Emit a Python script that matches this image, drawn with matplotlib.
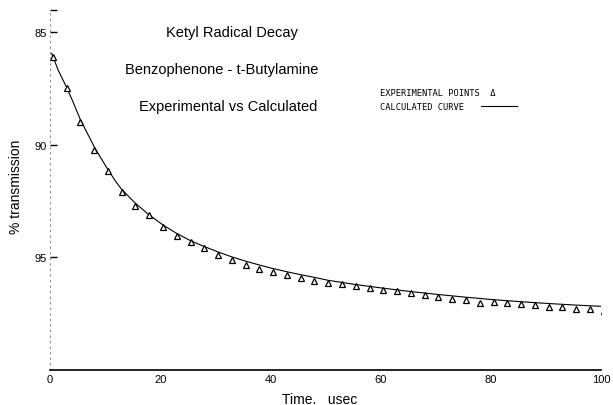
import matplotlib
matplotlib.use("Agg")
import matplotlib.pyplot as plt

plt.rcParams['font.family'] = ['Liberation Sans', 'DejaVu Sans']

# experimental points (time in usec, % transmission)
t_exp = [0.5, 3, 5.5, 8, 10.5, 13, 15.5, 18, 20.5, 23, 25.5, 28, 30.5, 33, 35.5,
         38, 40.5, 43, 45.5, 48, 50.5, 53, 55.5, 58, 60.5, 63, 65.5, 68, 70.5,
         73, 75.5, 78, 80.5, 83, 85.5, 88, 90.5, 93, 95.5, 98, 100.5]
T_exp = [86.11, 87.48, 88.99, 90.24, 91.17, 92.10, 92.72, 93.12, 93.65, 94.05,
         94.32, 94.58, 94.90, 95.12, 95.33, 95.50, 95.65, 95.78, 95.93, 96.04,
         96.13, 96.20, 96.29, 96.36, 96.45, 96.51, 96.60, 96.69, 96.76, 96.85,
         96.91, 97.04, 96.97, 97.01, 97.07, 97.12, 97.19, 97.22, 97.29, 97.31,
         97.37]

# calculated curve
t_calc = [0.3, 1.5, 3, 4, 5.5, 7, 8, 9, 10.5, 12, 13, 15.5, 18, 20.5, 23, 25.5,
          28, 30.5, 33, 35.5, 38, 40.5, 43, 45.5, 48, 50.5, 55.5, 60.5, 65.5,
          70.5, 75.5, 80.5, 85.5, 90.5, 95.5, 100.5]
T_calc = [85.95, 86.7, 87.45, 88.0, 88.88, 89.6, 90.08, 90.5, 91.1, 91.66,
          91.98, 92.6, 93.12, 93.56, 93.94, 94.26, 94.52, 94.76, 94.98, 95.17,
          95.34, 95.5, 95.64, 95.77, 95.89, 96.02, 96.21, 96.37, 96.52, 96.65,
          96.77, 96.88, 96.97, 97.05, 97.12, 97.18]

xticks = [0, 20, 40, 60, 80, 100]
yticks = [84, 85, 90, 95]
ylabels = ['', '85', '90', '95']

fig = plt.figure(figsize=(6.13, 4.06), dpi=100)
ax = fig.add_axes([50/613, 1-371/406, 551/613, 360.5/406])

ax.plot(t_calc, T_calc, color='black', lw=0.8)
ax.plot(t_exp, T_exp, ls='none', marker='^', ms=4.2, mfc='white', mec='black', mew=0.9)

ax.set_xlim(0, 100)
ax.set_ylim(100, 84)
ax.set_xticks(xticks)
ax.set_xticklabels([str(v) for v in xticks], fontsize=8)
ax.set_yticks(yticks)
ax.set_yticklabels(ylabels, fontsize=8)
ax.tick_params(axis='x', length=0, pad=3)
ax.tick_params(axis='y', length=5, width=1, direction='in', pad=2)

for s in ['top', 'right']:
    ax.spines[s].set_visible(False)
ax.spines['left'].set_linestyle((0, (1, 4)))
ax.spines['left'].set_color('#888888')
ax.spines['left'].set_linewidth(0.8)
ax.spines['bottom'].set_linewidth(1.2)

fig.text(16/613, 1-187/406, '% transmission', rotation=90, ha='center', va='center', fontsize=10)
fig.text(320/613, 1-400/406, 'Time.   usec', ha='center', va='center', fontsize=10)

fig.text(232/613, 1-33/406, 'Ketyl Radical Decay', ha='center', va='center', fontsize=10.5)
fig.text(222/613, 1-70/406, 'Benzophenone - t-Butylamine', ha='center', va='center', fontsize=10.5)
fig.text(228/613, 1-107/406, 'Experimental vs Calculated', ha='center', va='center', fontsize=10.5)

fig.text(380/613, 1-94/406, 'EXPERIMENTAL POINTS  \u0394', ha='left', va='center',
         fontsize=6.3, family='DejaVu Sans Mono')
fig.text(380/613, 1-107/406, 'CALCULATED CURVE', ha='left', va='center',
         fontsize=6.3, family='DejaVu Sans Mono')
fig.add_artist(plt.Line2D([481/613, 517/613], [1-107/406, 1-107/406], color='black', lw=0.8))

fig.savefig('out.png', dpi=100)
